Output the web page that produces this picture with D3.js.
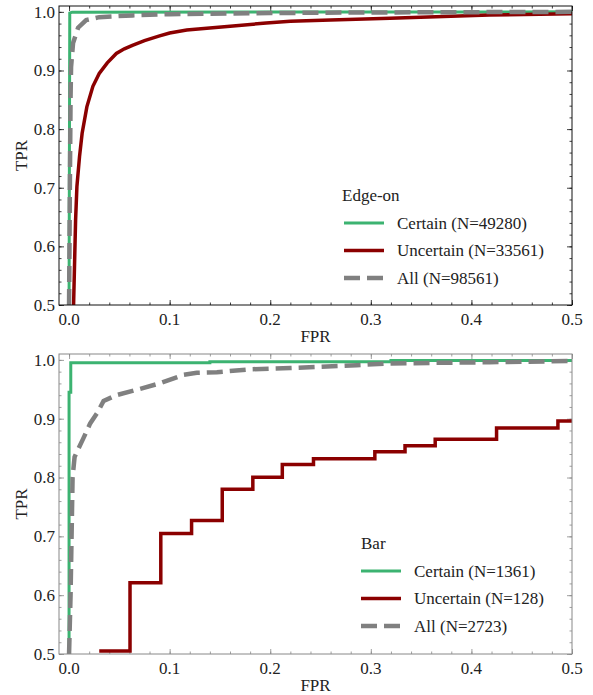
<!DOCTYPE html>
<html><head><meta charset="utf-8">
<script src="https://cdn.jsdelivr.net/npm/d3@7"></script>
<style>body{margin:0;background:#fff}svg{display:block}svg text{font-family:'Liberation Serif',serif !important}</style>
</head><body><svg id="c" width="593" height="695" font-family="Liberation Serif"></svg>
<script>
const xTicks = ["0.0","0.1","0.2","0.3","0.4","0.5"];
const yTicks = ["0.5","0.6","0.7","0.8","0.9","1.0"];
const seriesNames = ["Certain","Uncertain","All"];
const edgeTitle = "Edge-on";
const edgeLabels = ["Certain (N=49280)","Uncertain (N=33561)","All (N=98561)"];
const barTitle = "Bar";
const barLabels = ["Certain (N=1361)","Uncertain (N=128)","All (N=2723)"];

const edgeCertain = [[0,0.5],[0.0007,0.998],[0.003,0.9995],[0.5,1.0]];
const edgeUncertain = [[0.0045,0.5],[0.0065,0.645],[0.0078,0.702],[0.0104,0.753],[0.013,0.793],[0.0177,0.838],[0.0237,0.873],[0.030,0.895],[0.038,0.913],[0.047,0.929],[0.055,0.937],[0.063,0.943],[0.075,0.951],[0.09,0.959],[0.1,0.964],[0.117,0.969],[0.137,0.972],[0.163,0.976],[0.196,0.981],[0.22,0.984],[0.26,0.986],[0.319,0.989],[0.418,0.9945],[0.5,0.9966]];
const edgeAll = [[0,0.5],[0.0008,0.7],[0.0015,0.855],[0.002,0.906],[0.004,0.947],[0.009,0.973],[0.017,0.986],[0.03,0.991],[0.063,0.994],[0.1,0.996],[0.2,0.998],[0.3,0.999],[0.5,1.0]];

const barCertain = [[0,0.5],[0,0.945],[0.0017,0.945],[0.0017,0.995],[0.14,0.995],[0.14,0.997],[0.32,0.997],[0.32,0.999],[0.5,0.999]];
const barUncertain = [[0.03,0.505],[0.0606,0.505],[0.0606,0.621],[0.0912,0.621],[0.0912,0.705],[0.1218,0.705],[0.1218,0.727],[0.1523,0.727],[0.1523,0.78],[0.1827,0.78],[0.1827,0.8005],[0.212,0.8005],[0.212,0.822],[0.243,0.822],[0.243,0.832],[0.304,0.832],[0.304,0.844],[0.334,0.844],[0.334,0.854],[0.364,0.854],[0.364,0.865],[0.425,0.865],[0.425,0.884],[0.486,0.884],[0.486,0.896],[0.5,0.896]];
const barAll = [[0,0.5],[0.0015,0.6],[0.0025,0.7],[0.0035,0.8],[0.0055,0.835],[0.0093,0.849],[0.0143,0.867],[0.021,0.892],[0.0277,0.909],[0.0343,0.93],[0.047,0.94],[0.067,0.949],[0.09,0.96],[0.1136,0.9745],[0.127,0.978],[0.147,0.979],[0.18,0.984],[0.22,0.986],[0.286,0.991],[0.319,0.994],[0.418,0.996],[0.5,0.998]];

const colors = {Certain:"#3cb371", Uncertain:"#8b0000", All:"#808080"};
const widths = {Certain:3, Uncertain:3.5, All:4.5};
const dashes = {Certain:null, Uncertain:null, All:"16,7"};
const FONT = "Liberation Serif";

const svg = d3.select("#c");

function txt(sel){ return sel.attr("font-family", FONT).style("font-family", FONT).attr("font-size", 17).attr("fill","#222"); }

function panel(top, bottom, spineColor, data, title, labels, leg, id){
  const L = 59, R = 572;
  const x = d3.scaleLinear().domain([-0.01,0.5]).range([L,R]);
  const y = d3.scaleLinear().domain([0.5,1.01]).range([bottom,top]);
  const g = svg.append("g").attr("font-family", FONT);
  g.append("clipPath").attr("id",id).append("rect").attr("x",L).attr("y",top).attr("width",R-L).attr("height",bottom-top);
  const minor = d3.range(0,0.5001,0.02);
  const minorY = d3.range(0.5,1.0101,0.02);
  const majorX = xTicks.map(Number), majorY = yTicks.map(Number);
  function ticks(axisFn, scale, pos, isX, vals, size){
    const a = axisFn(scale).tickValues(vals).tickSizeInner(-size).tickSizeOuter(0).tickFormat("");
    const s = g.append("g").attr("transform", isX?`translate(0,${pos})`:`translate(${pos},0)`).call(a);
    s.select(".domain").remove();
    s.selectAll("text").remove();
    s.selectAll("line").attr("stroke", spineColor).attr("stroke-width",0.8);
  }
  ticks(d3.axisBottom, x, bottom, true, minor, 2.5);
  ticks(d3.axisTop, x, top, true, minor, 2.5);
  ticks(d3.axisLeft, y, L, false, minorY, 2.5);
  ticks(d3.axisRight, y, R, false, minorY, 2.5);
  ticks(d3.axisBottom, x, bottom, true, majorX, 5);
  ticks(d3.axisTop, x, top, true, majorX, 5);
  ticks(d3.axisLeft, y, L, false, majorY, 5);
  ticks(d3.axisRight, y, R, false, majorY, 5);

  // tick labels placed by the scales
  xTicks.forEach(t=>{
    txt(g.append("text").attr("x", x(+t)).attr("y", bottom+20).attr("text-anchor","middle")).text(t);
  });
  yTicks.forEach(t=>{
    txt(g.append("text").attr("x", L-4).attr("y", y(+t)).attr("dy","0.35em").attr("text-anchor","end")).text(t);
  });

  const line = d3.line().x(d=>x(d[0])).y(d=>y(d[1]));
  const lg = g.append("g").attr("clip-path",`url(#${id})`);
  seriesNames.forEach((n,i)=>{
    lg.append("path").attr("d", line(data[i])).attr("fill","none")
      .attr("stroke",colors[n]).attr("stroke-width",widths[n])
      .attr("stroke-dasharray",dashes[n]).attr("stroke-linejoin","miter");
  });
  g.append("rect").attr("x",L).attr("y",top).attr("width",R-L).attr("height",bottom-top)
    .attr("fill","none").attr("stroke",spineColor).attr("stroke-width",1);

  txt(g.append("text").attr("x",(L+R)/2).attr("y",bottom+37).attr("text-anchor","middle")).text("FPR");
  txt(g.append("text").attr("transform",`translate(27,${(top+bottom)/2}) rotate(-90)`).attr("text-anchor","middle")).text("TPR");

  txt(g.append("text").attr("x",leg.tx).attr("y",leg.ty).attr("dy","0.35em")).text(title);
  seriesNames.forEach((n,i)=>{
    const yy = leg.y0 + i*27.5;
    g.append("line").attr("x1",leg.lx).attr("x2",leg.lx+40).attr("y1",yy).attr("y2",yy)
      .attr("stroke",colors[n]).attr("stroke-width",widths[n]).attr("stroke-dasharray",dashes[n]);
    txt(g.append("text").attr("x",leg.lx+53).attr("y",yy).attr("dy","0.35em")).text(labels[i]);
  });
}

panel(6, 305, "#111", [edgeCertain, edgeUncertain, edgeAll], edgeTitle, edgeLabels, {tx:342, ty:195, lx:344, y0:223}, "c1");
panel(354, 654, "#888", [barCertain, barUncertain, barAll], barTitle, barLabels, {tx:361, ty:543, lx:361, y0:571}, "c2");
</script></body></html>
